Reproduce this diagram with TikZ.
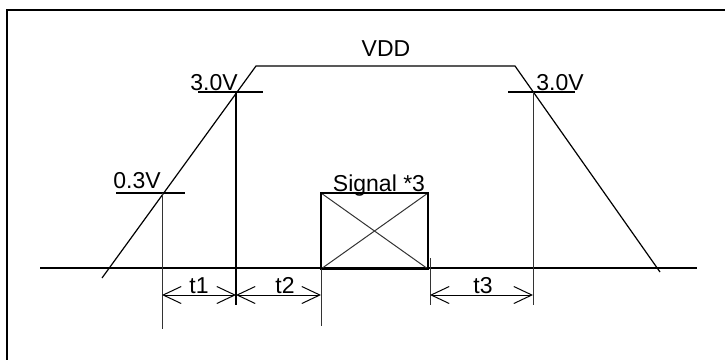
\documentclass[tikz,border=0pt]{standalone}
\usepackage{fontspec}
\setmainfont{Liberation Sans}
\usetikzlibrary{arrows.meta}
\usetikzlibrary{positioning}
\usetikzlibrary{calc}
\tikzset{
	every node/.append style={inner sep=0pt, anchor=base, font=\fontsize{23}{26}\selectfont},
	wave/.style={line width=1.2pt},
	level/.style={line width=2pt},
	guide/.style={line width=1pt, black!80},
	dim/.style={line width=1pt,
		    {Straight Barb[length=18pt,width=17pt]}-{Straight Barb[length=18pt,width=17pt]}}
}

\begin{document}
\begin{tikzpicture}[x=1pt, y=-1pt]
	\useasboundingbox (0,0) rectangle (725,359);
	\draw[line width=2.5pt] (7,365) -- (7,10) -- (730,10);

	% supply ramp
	\coordinate (rise0) at (102,278);
	\coordinate (rise1) at (256,66);
	\coordinate (fall1) at (515,66);
	\coordinate (fall0) at (660,272);
	\coordinate (axisL) at (40,268);
	\coordinate (axisR) at (697,268);
	\draw[wave] (rise0) -- (rise1) -- (fall1) -- (fall0);
	\draw[wave] (axisL) -- (axisR);

	% threshold points
	\coordinate (lo) at (162,193);
	\coordinate (hiL) at (236,92);
	\coordinate (hiR) at (533,92);
	\draw[level] ($(lo)+(-46,0)$) -- ($(lo)+(23,0)$);
	\draw[level] ($(hiL)+(-38,0)$) -- ($(hiL)+(27,0)$);
	\draw[level] ($(hiR)+(-25,0)$) -- ($(hiR)+(42,0)$);
	\draw[guide] (lo) -- (162,329);
	\draw[level] (hiL) -- (236,305);
	\draw[guide] (hiR) -- (533,305);

	% signal box
	\coordinate (sigA) at (321,193);
	\coordinate (sigB) at (428,269);
	\draw[guide] (sigA) -- (sigB);
	\draw[guide] (sigA |- sigB) -- (sigB |- sigA);
	\draw[level] (sigA) rectangle (sigB);
	\draw[guide] (321,269) -- (321,326);
	\draw[guide] (430,258) -- (430,305);

	% timings
	\draw[dim] (162,295) -- (236,295);
	\draw[dim] (236,295) -- (321,295);
	\draw[dim] (430,295) -- (533,295);

	\node (vdd) at (386,56) {VDD};
	\node (hiLtext) at (214,90) {3.0V};
	\node (lotext) at (137,188) {0.3V};
	\node (hiRtext) at (560,90) {3.0V};
	\node (sig) at (379,191) {Signal *3};
	\node (t1) at (199,293) {t1};
	\node (t2) at (285,293) {t2};
	\node (t3) at (483,293) {t3};

\end{tikzpicture}
\end{document}
